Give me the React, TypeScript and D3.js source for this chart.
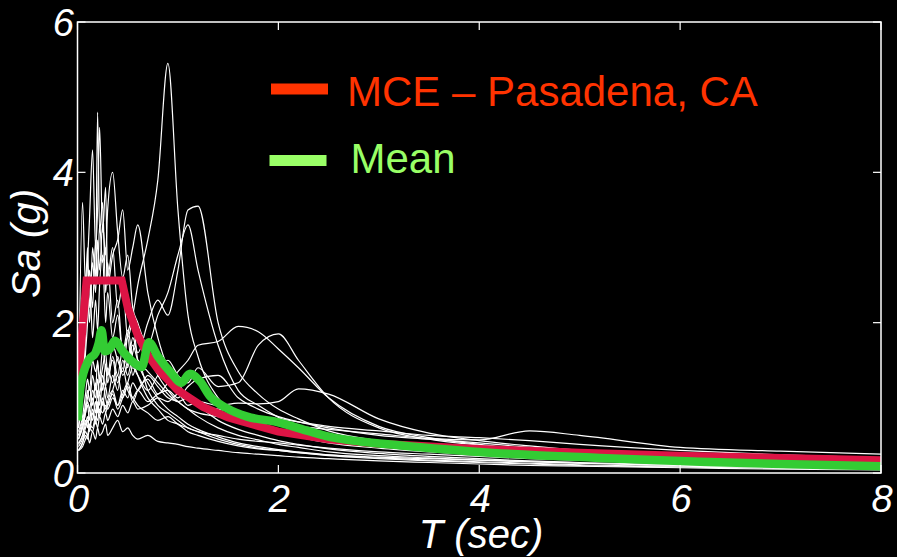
import React from "react";
import * as d3 from "d3";

const periods = [0.01,0.05,0.08,0.1,0.12,0.15,0.18,0.2,0.22,0.25,0.28,0.3,0.35,0.4,0.45,0.5,0.55,0.6,0.7,0.8,0.9,1.0,1.1,1.2,1.4,1.6,1.8,2.0,2.2,2.5,3.0,3.5,4.0,4.5,5.0,6.0,7.0,8.0];

const rec01 = [0.55,0.75,1.05,1.25,1.1,1.5,1.35,1.45,1.25,1.65,1.4,1.3,1.7,1.5,1.35,1.85,2.1,2.5,3.1,3.9,5.45,3.5,2.1,1.55,1.0,0.78,0.64,0.55,0.48,0.4,0.33,0.28,0.24,0.2,0.18,0.14,0.11,0.09];
const rec02 = [0.45,0.65,0.85,1.0,1.15,0.9,1.2,1.0,1.3,1.1,1.45,1.2,1.55,1.3,1.65,1.4,1.8,1.6,2.0,2.3,2.1,2.7,3.5,3.55,2.0,1.35,1.05,0.85,0.72,0.56,0.43,0.36,0.3,0.26,0.23,0.18,0.15,0.12];
const rec03 = [0.38,0.5,0.7,0.6,0.85,0.7,0.95,0.8,1.05,0.9,1.15,1.0,1.3,1.1,1.5,1.3,1.6,1.9,1.7,2.1,2.4,2.9,3.3,2.7,1.7,1.1,0.9,0.74,0.62,0.5,0.4,0.33,0.28,0.24,0.2,0.15,0.12,0.1];
const rec04 = [0.35,0.45,0.6,0.7,0.55,0.8,0.65,0.9,0.75,0.95,0.8,0.9,1.05,0.85,1.0,1.15,0.95,1.1,1.25,1.05,1.2,1.35,1.5,1.7,1.75,1.95,1.88,1.65,1.4,1.0,0.62,0.47,0.38,0.31,0.26,0.2,0.16,0.13];
const rec05 = [0.5,0.6,0.8,0.9,0.7,1.0,0.8,1.1,0.9,1.2,1.0,0.9,1.1,1.3,1.0,1.2,1.4,1.3,1.1,1.3,1.5,1.3,1.2,1.4,1.15,1.2,1.7,1.85,1.5,1.0,0.6,0.45,0.37,0.31,0.26,0.2,0.16,0.13];
const rec06 = [0.3,0.4,0.5,0.45,0.6,0.55,0.7,0.6,0.75,0.65,0.8,0.7,0.85,0.75,0.9,0.8,0.95,0.85,0.9,1.0,0.95,1.05,0.9,0.95,0.9,0.93,0.92,0.95,1.12,1.05,0.72,0.53,0.43,0.36,0.3,0.22,0.18,0.14];
const rec07 = [0.3,0.4,0.55,0.5,0.65,0.6,0.75,0.7,0.85,0.8,0.9,0.85,1.0,0.9,1.1,1.0,1.2,1.1,1.3,1.15,1.0,0.95,0.85,0.8,0.75,0.7,0.68,0.66,0.62,0.58,0.52,0.46,0.44,0.56,0.5,0.34,0.29,0.25];
const rec08 = [0.4,0.5,0.65,0.75,0.6,0.85,0.7,0.95,0.8,1.0,0.85,0.95,1.1,0.9,1.05,1.2,1.0,1.1,0.95,1.05,1.1,1.0,1.15,1.25,1.3,1.0,0.85,0.75,0.68,0.6,0.5,0.45,0.4,0.34,0.29,0.22,0.18,0.15];
const rec09 = [0.6,1.2,1.8,2.4,2.0,3.0,2.6,4.8,3.2,3.6,2.4,2.8,2.0,2.3,1.6,1.8,1.3,1.5,1.1,0.9,0.8,0.7,0.6,0.55,0.45,0.38,0.33,0.3,0.27,0.23,0.19,0.16,0.14,0.12,0.1,0.08,0.06,0.05];
const rec10 = [0.7,1.5,2.2,2.8,3.4,4.3,3.0,3.5,4.6,3.2,3.8,2.6,3.0,2.2,2.5,1.8,2.0,1.5,1.2,1.0,0.85,0.75,0.65,0.58,0.48,0.4,0.35,0.31,0.28,0.24,0.2,0.17,0.15,0.13,0.11,0.09,0.07,0.06];
const rec11 = [0.9,3.6,2.5,3.0,2.2,2.8,2.4,3.1,2.7,3.3,2.9,3.5,4.0,3.2,2.6,2.9,2.2,2.0,1.6,1.3,1.1,0.95,0.85,0.75,0.6,0.5,0.44,0.38,0.34,0.28,0.23,0.2,0.17,0.15,0.13,0.1,0.08,0.07];
const rec12 = [0.8,1.3,1.9,2.3,2.7,2.2,3.1,2.6,3.3,2.8,3.0,2.5,2.9,3.1,3.5,2.7,3.0,3.3,2.4,1.8,1.4,1.2,1.0,0.9,0.7,0.58,0.5,0.43,0.38,0.32,0.26,0.22,0.19,0.16,0.14,0.11,0.09,0.08];
const rec13 = [0.3,0.35,0.45,0.5,0.4,0.55,0.45,0.6,0.5,0.55,0.65,0.5,0.6,0.7,0.55,0.6,0.5,0.45,0.5,0.42,0.4,0.38,0.35,0.33,0.3,0.27,0.25,0.23,0.21,0.19,0.16,0.14,0.12,0.1,0.09,0.07,0.05,0.04];
const rec14 = [0.5,0.7,0.9,1.1,0.95,1.3,1.1,1.5,1.2,1.4,1.6,1.3,1.5,1.2,1.4,1.1,1.0,0.9,0.8,0.7,0.75,0.65,0.6,0.55,0.5,0.45,0.42,0.4,0.37,0.33,0.28,0.25,0.22,0.19,0.17,0.13,0.1,0.08];
const rec15 = [0.6,1.0,1.6,2.0,2.6,1.8,2.3,1.9,2.5,2.9,2.0,2.4,1.8,2.1,1.6,1.9,1.5,1.3,1.0,0.85,0.7,0.65,0.55,0.5,0.42,0.36,0.32,0.3,0.27,0.24,0.21,0.19,0.17,0.15,0.13,0.1,0.08,0.07];
const rec16 = [0.45,0.6,0.8,0.95,0.85,1.1,1.0,1.25,1.05,1.3,1.15,1.4,1.2,1.55,1.3,1.45,1.7,1.5,1.35,1.2,1.05,0.95,1.0,0.9,0.85,0.8,0.75,0.72,0.68,0.62,0.56,0.5,0.47,0.43,0.38,0.3,0.24,0.2];

const records = [rec01,rec02,rec03,rec04,rec05,rec06,rec07,rec08,rec09,rec10,rec11,rec12,rec13,rec14,rec15,rec16];

const mceT = [0,0.09,0.44,0.5,0.6,0.7,0.8,1.0,1.25,1.5,2.0,2.5,3.0,4.0,5.0,6.0,7.0,8.0];
const mceSa = [1.15,2.56,2.56,2.2,1.83,1.57,1.38,1.1,0.88,0.74,0.55,0.45,0.39,0.32,0.27,0.23,0.2,0.17];

const meanT = [0,0.03,0.11,0.18,0.21,0.24,0.27,0.32,0.37,0.45,0.55,0.64,0.71,0.8,0.94,1.03,1.12,1.22,1.32,1.49,1.69,1.98,2.32,2.55,2.81,3.2,4.0,5.2,6.2,7.0,8.0];
const meanSa = [0.7,1.15,1.5,1.6,1.72,1.9,1.62,1.65,1.76,1.62,1.48,1.41,1.74,1.55,1.32,1.2,1.32,1.22,1.02,0.86,0.75,0.68,0.55,0.47,0.42,0.37,0.28,0.2,0.15,0.12,0.09];

const xTicks = [0,2,4,6,8];
const yTicks = [0,2,4,6];
const legendLabels = ["MCE \u2013 Pasadena, CA", "Mean"];

const W = 897, H = 557;
const L = 77.5, R = 881, T = 22, B = 473;
const FONT = "'Liberation Sans', Arial, Helvetica, sans-serif";

export default function App() {
  const x = d3.scaleLinear().domain([0, 8]).range([L, R]);
  const y = d3.scaleLinear().domain([0, 6]).range([B, T]);
  const smooth = d3.line<[number, number]>().x(d => x(d[0])).y(d => y(d[1])).curve(d3.curveMonotoneX);
  const straight = d3.line<[number, number]>().x(d => x(d[0])).y(d => y(d[1]));

  const recPaths = records.map(r => smooth(r.map((v, i) => [periods[i], v] as [number, number])) || "");
  const mcePath = straight(mceT.map((t, i) => [t, mceSa[i]] as [number, number])) || "";
  const meanPath = smooth(meanT.map((t, i) => [t, meanSa[i]] as [number, number])) || "";

  const tickLen = 8;
  return (
    <svg width={W} height={H} style={{ position: "absolute", left: 0, top: 0, display: "block" }}>
      <rect x={0} y={0} width={W} height={H} fill="#000" />
      <defs>
        <clipPath id="plot">
          <rect x={L} y={T} width={R - L} height={B - T} />
        </clipPath>
      </defs>
      <g clipPath="url(#plot)">
        {recPaths.map((p, i) => (
          <path key={i} d={p} fill="none" stroke="#fff" strokeWidth={1.2} />
        ))}
        <path d={mcePath} fill="none" stroke="#DC1445" strokeWidth={8} strokeLinejoin="miter" />
        <path d={meanPath} fill="none" stroke="#33CC33" strokeWidth={8.5} strokeLinejoin="round" />
      </g>
      <rect x={L} y={T} width={R - L} height={B - T} fill="none" stroke="#fff" strokeWidth={1.5} />
      {xTicks.map(t => (
        <g key={"x" + t}>
          <line x1={x(t)} x2={x(t)} y1={B} y2={B - tickLen} stroke="#fff" strokeWidth={1.2} />
          <line x1={x(t)} x2={x(t)} y1={T} y2={T + tickLen} stroke="#fff" strokeWidth={1.2} />
          <text x={x(t) + 1} y={512} textAnchor="middle" fill="#fff" fontFamily={FONT} fontStyle="italic" fontSize={38}>{t}</text>
        </g>
      ))}
      {yTicks.map(t => (
        <g key={"y" + t}>
          <line x1={L} x2={L + tickLen} y1={y(t)} y2={y(t)} stroke="#fff" strokeWidth={1.2} />
          <line x1={R} x2={R - tickLen} y1={y(t)} y2={y(t)} stroke="#fff" strokeWidth={1.2} />
          <text x={74} y={y(t) + 14} textAnchor="end" fill="#fff" fontFamily={FONT} fontStyle="italic" fontSize={38}>{t}</text>
        </g>
      ))}
      <text x={481} y={548} textAnchor="middle" fill="#fff" fontFamily={FONT} fontStyle="italic" fontSize={40}>T (sec)</text>
      <text transform={`translate(40,${(T + B) / 2 - 4}) rotate(-90)`} textAnchor="middle" fill="#fff" fontFamily={FONT} fontStyle="italic" fontSize={40}>Sa (g)</text>
      <rect x={271} y={83.5} width={57} height={11} fill="#FF3300" />
      <text x={347} y={106} fill="#FF3300" fontFamily={FONT} fontSize={42}>{legendLabels[0]}</text>
      <rect x={269.5} y={155} width={57} height={11} fill="#99FF66" />
      <text x={350.5} y={173} fill="#99FF66" fontFamily={FONT} fontSize={42}>{legendLabels[1]}</text>
    </svg>
  );
}
